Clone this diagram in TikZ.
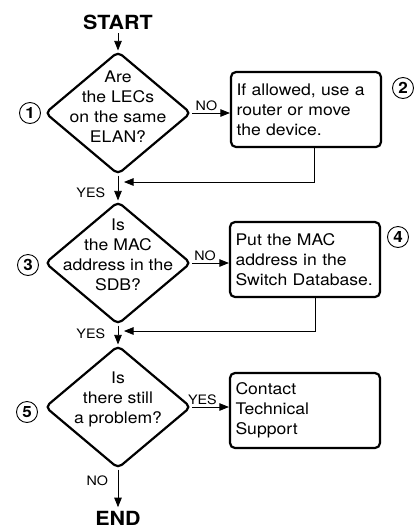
\documentclass[tikz,border=0pt]{standalone}
\usepackage{fontspec}
\setmainfont[FakeStretch=1.1]{TeX Gyre Heros}
\usetikzlibrary{positioning, arrows.meta, shapes.geometric}

\begin{document}
\begin{tikzpicture}[x=1pt, y=-1pt, >={Triangle[length=9.5pt,width=7.5pt]}, line width=0.8pt,
  decision/.style={diamond, draw, line width=2.2pt, rounded corners=5pt, minimum width=146pt, minimum height=123pt, inner sep=0pt},
  qtext/.style={align=center, font=\fontsize{16}{20}\selectfont},
  action/.style={rectangle, draw, line width=2.2pt, rounded corners=5pt, minimum width=150pt, minimum height=75pt, text width=139pt, inner xsep=5.5pt, align=left, font=\fontsize{16}{20}\selectfont},
  stepnum/.style={circle, draw, line width=0.9pt, minimum size=21pt, inner sep=0pt, font=\fontsize{15.5}{15.5}\selectfont\bfseries},
  answer/.style={inner sep=1.5pt, font=\fontsize{13}{13}\selectfont},
  endpoint/.style={font=\fontsize{19.5}{19.5}\selectfont\bfseries}]
\useasboundingbox (0,0) rectangle (414,528);
% LEC / ELAN check
\node[endpoint] (start) at (118,22) {START};
\node[decision] (q1) at (118,113) {};
\node[qtext] (q1t) at ([yshift=6pt]q1) {Are\\the LECs\\on the same\\ELAN?};
\node[action] (b2) at (306,109.5) {If allowed, use a\\router or move\\the device.};
\node[stepnum] (n1) at (30,113) {1};
\node[stepnum] (n2) at (403,88) {2};
\coordinate (j1) at (124,182);
% MAC address check
\node[decision] (q3) at (118,263) {};
\node[qtext] (q3t) at ([yshift=8pt]q3) {Is\\the MAC\\address in the\\SDB?};
\node[action] (b4) at (305,259.5) {Put the MAC\\address in the\\Switch Database.};
\node[stepnum] (n3) at (28,265) {3};
\node[stepnum] (n4) at (398,237) {4};
\coordinate (j3) at (124,331);
% still a problem?
\node[decision] (q5) at (118,407) {};
\node[qtext] (q5t) at ([yshift=8pt]q5) {Is\\there still\\a problem?};
\node[action] (b6) at (305,410.5) {Contact\\Technical\\Support};
\node[stepnum] (n5) at (27,412) {5};
\node[endpoint] (end) at (118,518) {END};

\draw[->] (start) -- (q1);
\draw[->] (q1.east) -- (q1.east -| b2.west) node[answer, above, pos=0.38] (a1) {NO};
\draw[->] ([xshift=8pt]b2.south) |- (j1);
\draw[->] (q1.south) -- (q3.north) node[answer, left=11pt, pos=0.7] (a2) {YES};
\draw[->] (q3.east) -- (q3.east -| b4.west) node[answer, above, pos=0.35] (a3) {NO};
\draw[->] ([xshift=10pt]b4.south) |- (j3);
\draw[->] (q3.south) -- (q5.north) node[answer, left=11pt, pos=0.45] (a4) {YES};
\draw[->] (q5.east) -- (q5.east -| b6.west) node[answer, above, pos=0.28] (a5) {YES};
\draw[->] (q5.south) -- (end) node[answer, left=8pt, pos=0.3] (a6) {NO};
\end{tikzpicture}
\end{document}
